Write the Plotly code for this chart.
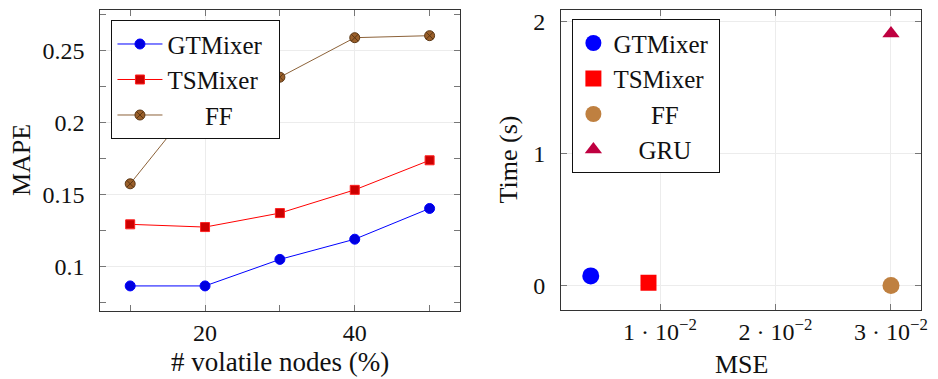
import plotly.graph_objects as go

# ---- data: left panel ----
nodes_pct = [10, 20, 30, 40, 50]
mape_gtmixer = [0.0866, 0.0866, 0.105, 0.119, 0.1403]
mape_tsmixer = [0.1293, 0.1274, 0.1371, 0.1532, 0.1737]
mape_ff = [0.1574, 0.222, 0.2313, 0.2587, 0.2601]

# ---- data: right panel ----
models = ["GTMixer", "TSMixer", "FF", "GRU"]
mse_vals = [0.0040, 0.0090, 0.0300, 0.0300]
time_vals = [0.073, 0.02, 0.0, 1.91]

left_y_ticks = [0.1, 0.15, 0.2, 0.25]
left_x_ticks = [20, 40]
right_x_ticks = [0.01, 0.02, 0.03]
right_x_labels = ["1 · 10<sup>−2</sup>", "2 · 10<sup>−2</sup>", "3 · 10<sup>−2</sup>"]
right_y_ticks = [0, 1, 2]

FONT = "'Liberation Serif', 'Times New Roman', Times, serif"
W, H = 938, 379
NB = "\u00a0"

def centered(name, pad_left, pad_right):
    return NB * pad_left + name + NB * pad_right

fig = go.Figure()

fig.add_trace(go.Scatter(x=nodes_pct, y=mape_gtmixer, name=centered("GTMixer", 0, 2), mode="lines+markers",
                         line=dict(color="#0000ff", width=1),
                         marker=dict(symbol="circle", size=10, color="#0000e0", line=dict(color="#0000ff", width=1)),
                         xaxis="x", yaxis="y", legend="legend"))
fig.add_trace(go.Scatter(x=nodes_pct, y=mape_tsmixer, name=centered("TSMixer", 0, 2), mode="lines+markers",
                         line=dict(color="#ff0000", width=1),
                         marker=dict(symbol="square", size=9, color="#cc0000", line=dict(color="#ff2020", width=1)),
                         xaxis="x", yaxis="y", legend="legend"))
fig.add_trace(go.Scatter(x=nodes_pct, y=mape_ff, name=centered("FF", 6, 0), mode="lines+markers",
                         line=dict(color="#8c6239", width=1),
                         marker=dict(symbol="circle-x", size=10, color="#9a5f2a", line=dict(color="#5a3715", width=1)),
                         xaxis="x", yaxis="y", legend="legend"))

right_symbols = ["circle", "square", "circle", "triangle-up"]
right_colors = ["#0000ff", "#ff0000", "#bf8040", "#bf0040"]
right_sizes = [17, 16, 17, 15]
right_pads = [(0, 1), (0, 1), (6, 0), (4, 0)]
for i, m in enumerate(models):
    fig.add_trace(go.Scatter(x=[mse_vals[i]], y=[time_vals[i]], name=centered(m, *right_pads[i]), mode="markers",
                             marker=dict(symbol=right_symbols[i], size=right_sizes[i], color=right_colors[i],
                                         line=dict(width=0)),
                             xaxis="x2", yaxis="y2", legend="legend2"))

axis_common = dict(showline=True, linecolor="#333333", linewidth=1, mirror="ticks",
                   ticks="inside", ticklen=6, tickcolor="#777777", tickwidth=1,
                   gridcolor="#ececec", gridwidth=1, zeroline=False,
                   tickfont=dict(family=FONT, size=24, color="#111111"))

fig.update_layout(
    width=W, height=H,
    margin=dict(l=0, r=0, t=0, b=0),
    paper_bgcolor="white", plot_bgcolor="white",
    font=dict(family=FONT, color="#111111"),
    xaxis=dict(domain=[101 / W, 463 / W], anchor="y", range=[6, 54],
               tickvals=left_x_ticks, showgrid=True,
               minor=dict(tickvals=[10, 30, 50], ticks="inside", ticklen=6, tickcolor="#777777", showgrid=False),
               **axis_common),
    yaxis=dict(domain=[1 - 310.7 / H, 1 - 9.3 / H], anchor="x", range=[0.0693, 0.2777],
               tickvals=left_y_ticks, showgrid=True, ticklabelstandoff=10,
               minor=dict(tickvals=[0.075, 0.125, 0.175, 0.225, 0.275], ticks="inside", ticklen=6,
                          tickcolor="#777777", showgrid=False),
               **axis_common),
    xaxis2=dict(domain=[565.3 / W, 927.7 / W], anchor="y2", range=[0.00143, 0.03258],
                tickvals=right_x_ticks, ticktext=right_x_labels, showgrid=True, **axis_common),
    yaxis2=dict(domain=[1 - 310 / H, 1 - 9.3 / H], anchor="x2", range=[-0.187, 2.086],
                tickvals=right_y_ticks, showgrid=True, ticklabelstandoff=10, **axis_common),
    legend=dict(x=112.3 / W, y=1 - 19.3 / H, xanchor="left", yanchor="top", itemwidth=45,
                bgcolor="white", bordercolor="#111111", borderwidth=1,
                font=dict(family=FONT, size=25, color="#111111"), tracegroupgap=0),
    legend2=dict(x=576.7 / W, y=1 - 18.3 / H, xanchor="left", yanchor="top",
                 bgcolor="white", bordercolor="#111111", borderwidth=1,
                 font=dict(family=FONT, size=25, color="#111111"), tracegroupgap=0),
    showlegend=True,
)

annots = [
    dict(text="MAPE", x=21.7 / W, y=1 - 160 / H, textangle=-90, size=26),
    dict(text="# volatile nodes (%)", x=282 / W, y=1 - 362 / H, textangle=0, size=27),
    dict(text="Time (s)", x=512.7 / W, y=1 - 159 / H, textangle=-90, size=26),
    dict(text="MSE", x=746.7 / W, y=1 - 364 / H, textangle=0, size=26),
]
for a in annots:
    fig.add_annotation(text=a["text"], x=a["x"], y=a["y"], xref="paper", yref="paper",
                       xanchor="center", yanchor="middle", showarrow=False, textangle=a["textangle"],
                       font=dict(family=FONT, size=a["size"], color="#111111"))

fig.write_html("out.html", config={"displayModeBar": False},
               post_script="document.body.style.margin='0';document.body.style.padding='0';")
